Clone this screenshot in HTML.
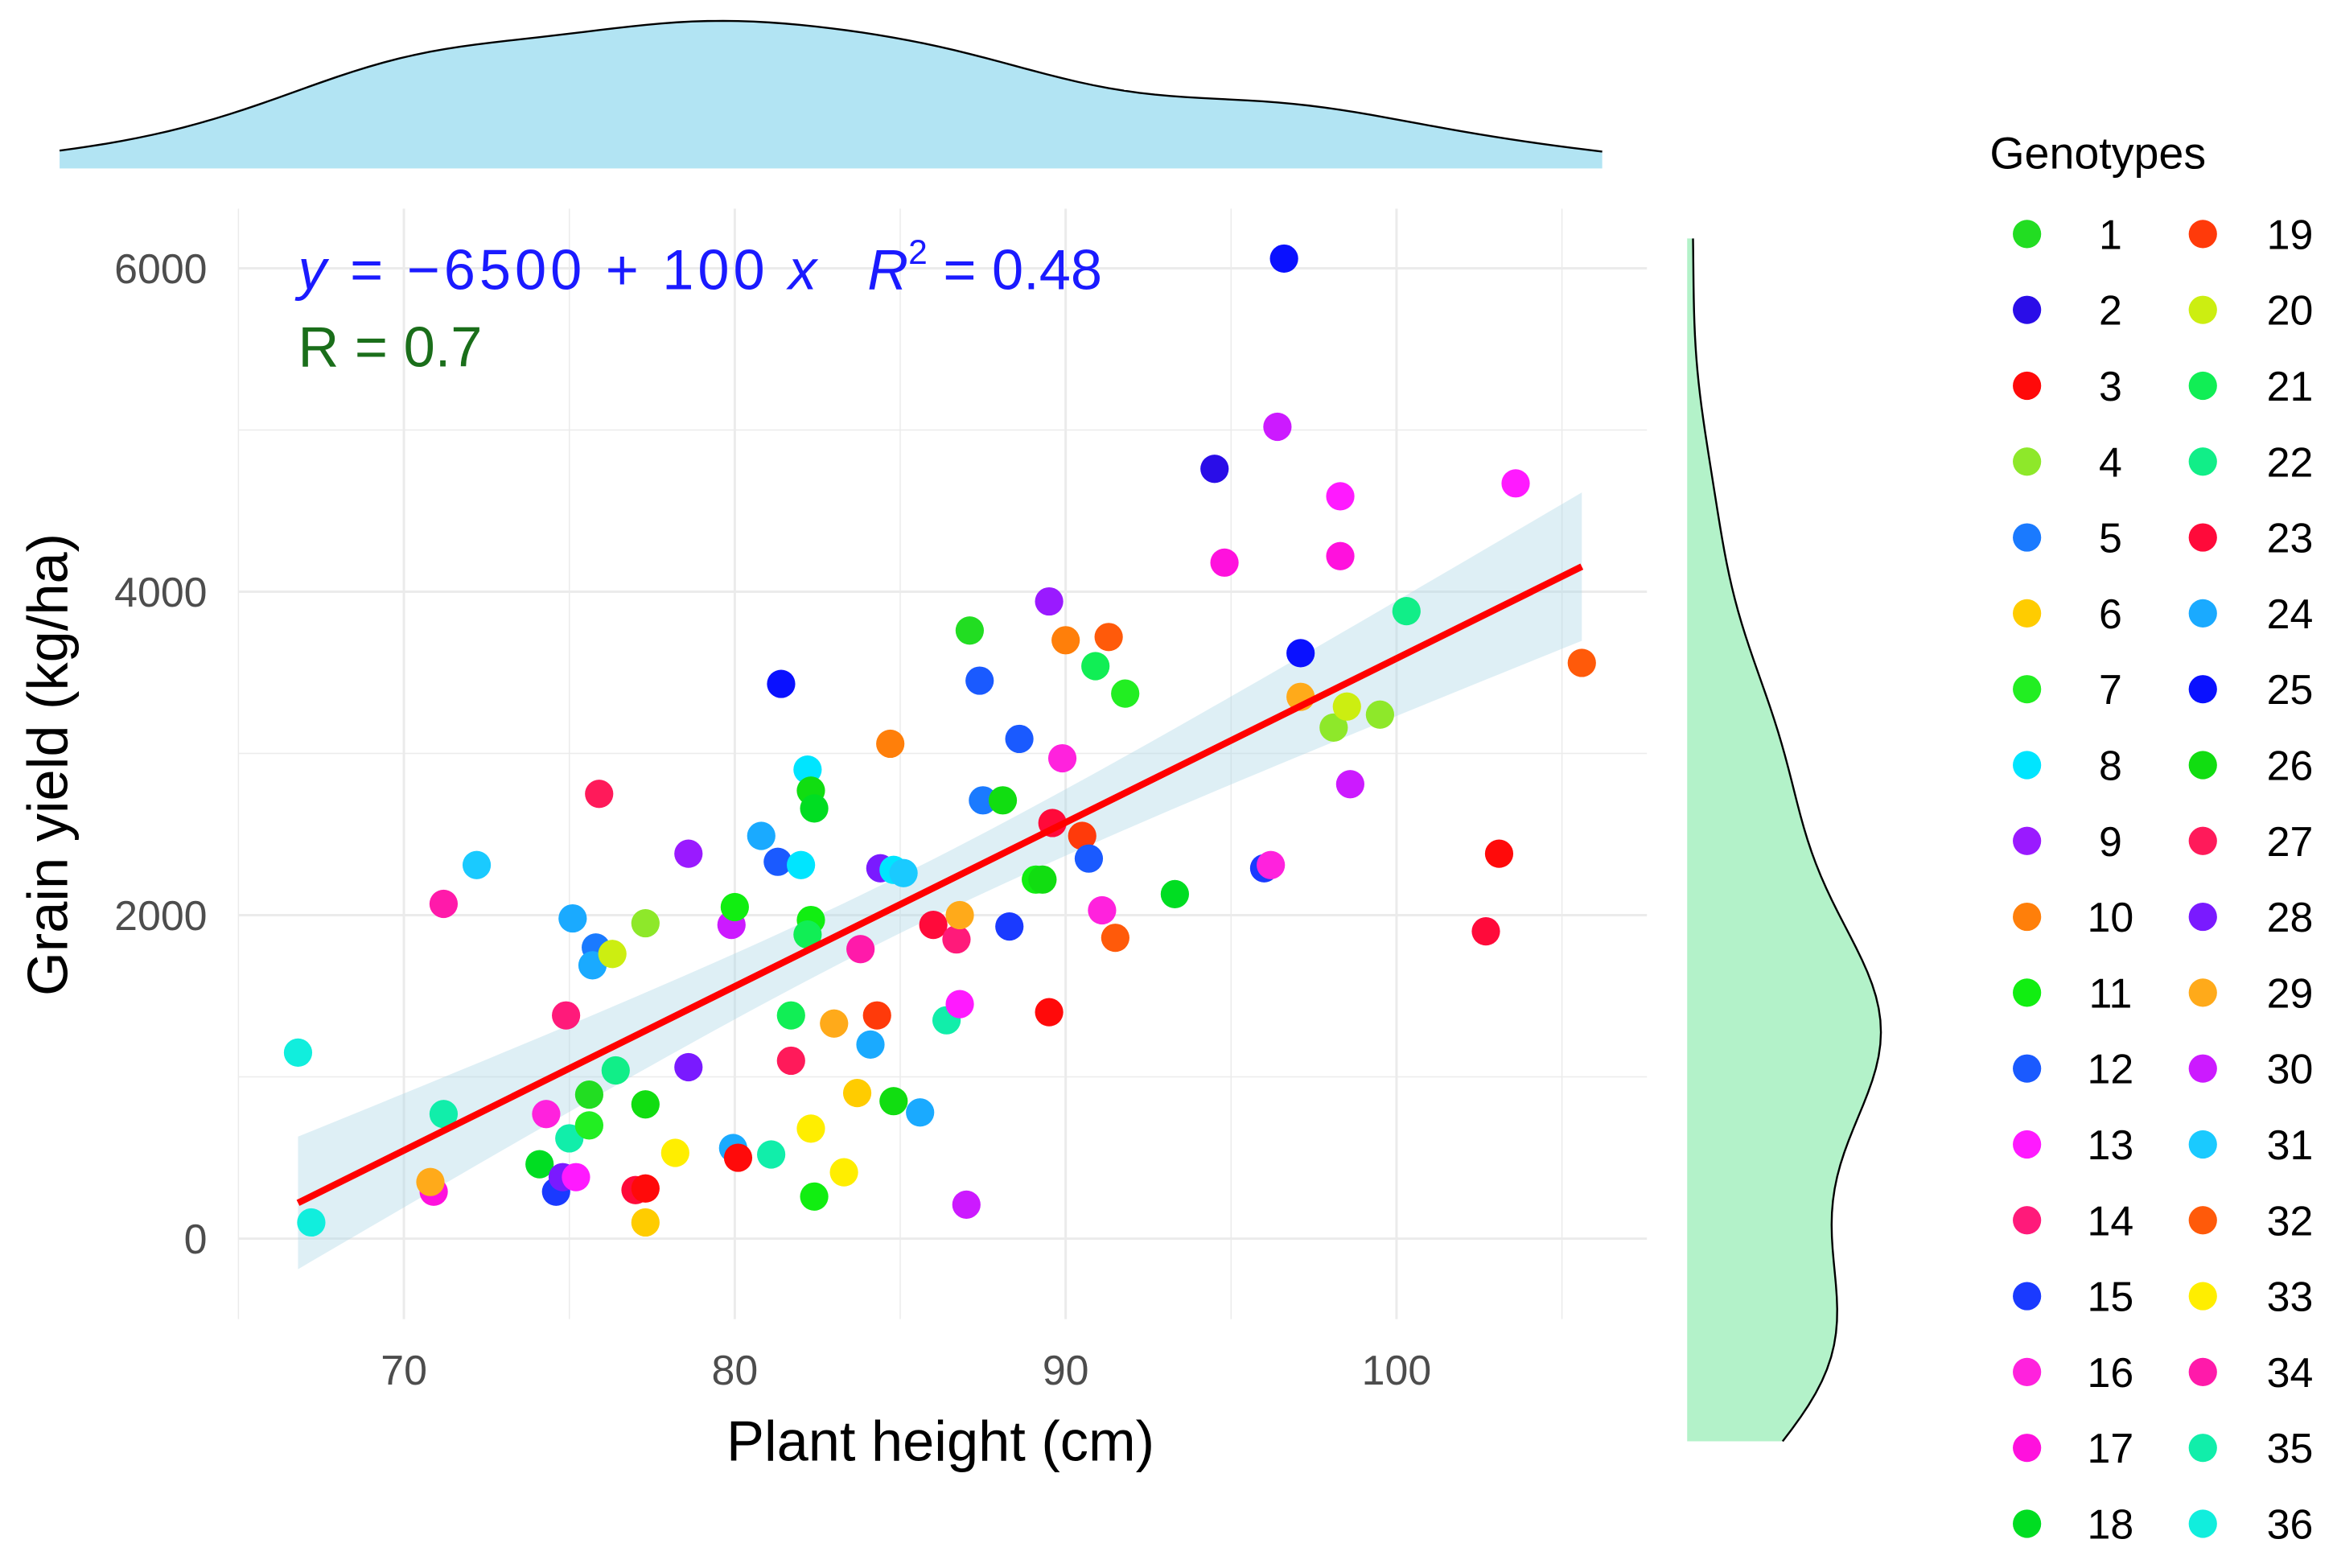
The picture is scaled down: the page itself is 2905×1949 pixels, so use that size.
<!DOCTYPE html>
<html><head><meta charset="utf-8"><style>
html,body{margin:0;padding:0;background:#fff;}
svg{display:block;font-family:"Liberation Sans",sans-serif;}
</style></head><body>
<svg id="chart" width="2905" height="1949" viewBox="0 0 1568 1052" preserveAspectRatio="none" xmlns="http://www.w3.org/2000/svg">
<g id="grid"></g>
<g id="band"></g>
<g id="pts"></g>
<g id="axes"></g>
<g id="marg"></g>
<g id="legend"></g>
<text x="200" y="194" font-size="38" fill="#1a1aff" textLength="348" lengthAdjust="spacing"><tspan font-style="italic">y</tspan> = −6500 + 100 <tspan font-style="italic">x</tspan></text>
<text x="582" y="194" font-size="38" fill="#1a1aff"><tspan font-style="italic">R</tspan><tspan font-size="23" dy="-17">2</tspan><tspan dy="17"> = 0.48</tspan></text>
<text x="200" y="246" font-size="38" fill="#1a6e1a">R = 0.7</text>
<text x="631" y="980" font-size="38" text-anchor="middle" fill="#000">Plant height (cm)</text>
<text transform="translate(45,513) rotate(-90)" font-size="38" text-anchor="middle" fill="#000">Grain yield (kg/ha)</text>
<text x="1335" y="113" font-size="30" fill="#000">Genotypes</text>
</svg>
<script>
const xVals=[66.8,67.2,70.9,70.8,71.2,71.2,72.2,74.1,74.3,74.6,74.8,75.2,74.9,75.1,75.0,75.6,75.6,75.8,75.7,75.9,76.3,76.4,77.0,77.3,77.3,77.3,77.3,78.2,78.6,78.6,79.9,80.0,79.95,80.1,80.8,81.1,81.3,81.4,81.7,81.7,82.0,82.2,82.3,82.4,82.3,82.2,82.3,82.4,83.0,83.3,83.7,83.8,84.1,84.3,84.4,84.7,84.8,84.8,85.1,85.6,86.0,86.4,86.7,86.8,86.8,87.0,87.1,87.4,87.5,88.1,88.3,88.6,89.1,89.3,89.5,89.5,89.6,89.9,90.0,90.5,90.7,90.9,91.1,91.3,91.5,91.8,93.3,94.5,94.8,96.0,96.2,96.4,96.6,97.1,97.1,98.1,98.5,98.3,98.3,98.6,99.5,100.3,102.7,103.1,103.6,105.6];
const yVals=[1150,100,290,350,770,2070,2310,460,770,290,380,380,1380,1980,620,890,700,1800,1690,2750,1760,1040,300,310,1950,830,100,530,1060,2380,1940,2050,560,500,2490,520,2330,3430,1380,1100,2310,2900,2770,2660,1970,1880,680,260,1330,410,900,1790,1200,1380,2290,3060,850,2280,2260,780,1940,1350,1850,1450,2000,210,3760,3450,2710,2710,1930,3090,2220,2220,3940,1400,2570,2970,3700,2490,2350,3540,2030,3720,1860,3370,2130,4760,4180,2290,2310,5020,6060,3350,3620,3160,3290,4590,4220,2810,3240,3880,1900,2380,4670,3560];
const genos=[36,36,17,29,35,34,31,18,16,15,28,13,14,24,35,1,7,5,24,27,20,22,23,3,4,26,6,33,28,9,30,11,24,3,24,35,12,25,21,27,8,8,26,18,11,21,33,11,29,33,6,34,24,19,28,10,26,8,31,24,23,35,14,13,29,30,1,12,5,26,15,12,11,26,9,3,23,16,10,19,12,21,16,32,32,7,18,2,17,15,16,30,25,29,25,4,20,13,17,30,4,22,23,3,13,32];
const legendLabels=["1","2","3","4","5","6","7","8","9","10","11","12","13","14","15","16","17","18","19","20","21","22","23","24","25","26","27","28","29","30","31","32","33","34","35","36"];
const genoColors=["#22dd22","#2a0de8","#ff0a0a","#8ee82a","#1a7aff","#ffcc00","#22ee22","#00e5ff","#9a1aff","#ff7f0a","#11ee11","#1a5aff","#ff1aff","#ff1a7a","#1a3aff","#ff22dd","#ff11dd","#00dd22","#ff3a0a","#ccee11","#11ee55","#11ee88","#ff0a3a","#1aaaff","#0a11ff","#11dd11","#ff1a5a","#7a1aff","#ffaa1a","#cc1aff","#1acaff","#ff5a0a","#ffee00","#ff1aaa","#11eeaa","#11eedd"];
const xTicks=[70,80,90,100];
const yTicks=[0,2000,4000,6000];

const NS="http://www.w3.org/2000/svg";
function mk(tag,attrs,parent){const e=document.createElementNS(NS,tag);for(const k in attrs)e.setAttribute(k,attrs[k]);parent.appendChild(e);return e;}
const xs=v=>271+(v-70)*22.2;
const ys=v=>831-v*0.1085;
const P={l:160,r:1105,t:140,b:885};
const grid=document.getElementById('grid');
for(let v=65;v<=105;v+=5){const major=v%10===0;const l=mk('line',{x1:xs(v),x2:xs(v),y1:P.t,y2:P.b,stroke:'#ebebeb','stroke-width':major?1.6:0.8},grid);

}
for(let v=0;v<=6000;v+=1000){const major=v%2000===0;const l=mk('line',{x1:P.l,x2:P.r,y1:ys(v),y2:ys(v),stroke:'#ebebeb','stroke-width':major?1.6:0.8},grid);

}
const axes=document.getElementById('axes');
xTicks.forEach(v=>{const t=mk('text',{x:xs(v),y:929,'font-size':28,'text-anchor':'middle',fill:'#4d4d4d'},axes);t.textContent=v;

});
yTicks.forEach(v=>{const t=mk('text',{x:139,y:ys(v)+10,'font-size':28,'text-anchor':'end',fill:'#4d4d4d'},axes);t.textContent=v;

});
const n=xVals.length;const mx=xVals.reduce((a,b)=>a+b)/n,my=yVals.reduce((a,b)=>a+b)/n;
let sxx=0,sxy=0;for(let i=0;i<n;i++){sxx+=(xVals[i]-mx)**2;sxy+=(xVals[i]-mx)*(yVals[i]-my);}
const b=sxy/sxx,a=my-b*mx;let sse=0;for(let i=0;i<n;i++)sse+=(yVals[i]-a-b*xVals[i])**2;
const s=Math.sqrt(sse/(n-2));const xmin=Math.min(...xVals),xmax=Math.max(...xVals);
const up=[],lo=[];for(let k=0;k<=80;k++){const x=xmin+(xmax-xmin)*k/80;const f=a+b*x;const se=s*Math.sqrt(1/n+(x-mx)**2/sxx)*1.98;up.push(xs(x)+','+ys(f+se));lo.unshift(xs(x)+','+ys(f-se));}
const band=document.getElementById('band');
const bp=mk('polygon',{points:up.concat(lo).join(' '),fill:'#add8e6','fill-opacity':0.4},band);


const pts=document.getElementById('pts');
for(let i=0;i<n;i++){const c=mk('circle',{cx:xs(xVals[i]),cy:ys(yVals[i]),r:9.5,fill:genoColors[genos[i]-1]},pts);

}
const rl=mk('line',{x1:xs(xmin),y1:ys(a+b*xmin),x2:xs(xmax),y2:ys(a+b*xmax),stroke:'#ff0000','stroke-width':4.5},pts);


function kde(arr,x){const m=arr.reduce((p,q)=>p+q)/arr.length;const sd=Math.sqrt(arr.reduce((p,q)=>p+(q-m)**2,0)/(arr.length-1));
const so=[...arr].sort((p,q)=>p-q);const iqr=so[Math.floor(0.75*so.length)]-so[Math.floor(0.25*so.length)];
const h=0.9*Math.min(sd,iqr/1.34)*Math.pow(arr.length,-0.2);let d=0;arr.forEach(v=>{d+=Math.exp(-0.5*((x-v)/h)**2);});return d/(arr.length*h*Math.sqrt(2*Math.PI));}
const marg=document.getElementById('marg');
let mxd=0;const td=[];for(let k=0;k<=100;k++){const v=xmin+(xmax-xmin)*k/100;const d=kde(xVals,v);td.push(d);mxd=Math.max(mxd,d);}
const tpts=td.map((d,k)=>(40+1035*k/100)+','+(113-99*d/mxd));
const tpoly=mk('polygon',{points:'40,113 '+tpts.join(' ')+' 1075,113',fill:'#b2e4f3'},marg);


const tl=mk('polyline',{points:tpts.join(' '),fill:'none',stroke:'#000','stroke-width':1.3},marg);


const ymin=Math.min(...yVals),ymax=Math.max(...yVals);const rd=[];let mrd=0;
for(let k=0;k<=100;k++){const v=ymax-(ymax-ymin)*k/100;const d=kde(yVals,v);rd.push(d);mrd=Math.max(mrd,d);}
const rpts=rd.map((d,k)=>(1132+130*d/mrd)+','+(160+807*k/100));
const rpoly=mk('polygon',{points:'1132,160 '+rpts.join(' ')+' 1132,967',fill:'#b3f2c9'},marg);


const rln=mk('polyline',{points:rpts.join(' '),fill:'none',stroke:'#000','stroke-width':1.3},marg);


const lg=document.getElementById('legend');
legendLabels.forEach((lab,i)=>{const col=i<18?0:1;const row=i%18;const y=157+row*50.9;
const dx=col?1478:1360;
const c=mk('circle',{cx:dx,cy:y,r:9.5,fill:genoColors[i]},lg);


const t=mk('text',{x:col?1552:1416,y:y+10,'font-size':28,'text-anchor':col?'end':'middle',fill:'#000'},lg);t.textContent=lab;

});
</script>
</body></html>
